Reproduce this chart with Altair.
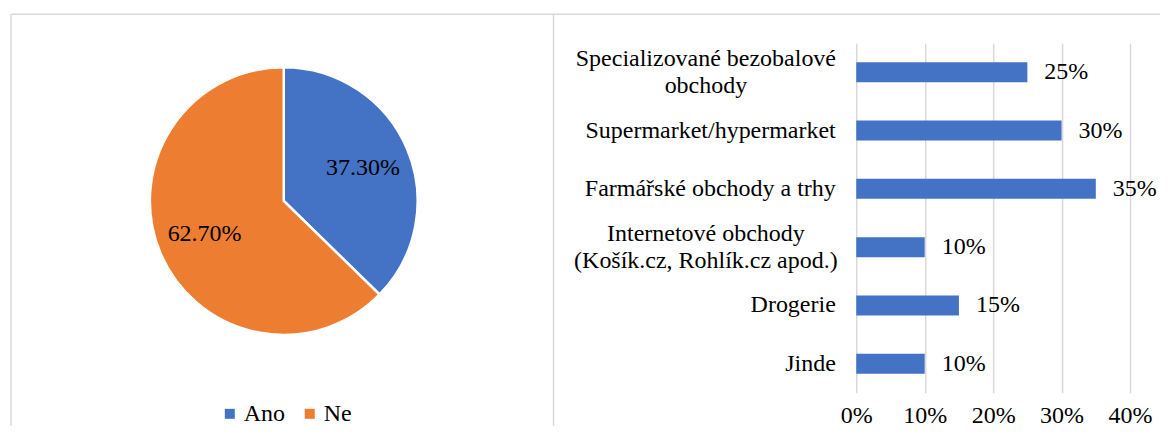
import altair as alt
import pandas as pd

# ---- data ----
answers = ["Ano", "Ne"]
shares = [37.3, 62.7]
share_labels = ["37.30%", "62.70%"]

places = [
    "Specializované bezobalové\nobchody",
    "Supermarket/hypermarket",
    "Farmářské obchody a trhy",
    "Internetové obchody\n(Košík.cz, Rohlík.cz apod.)",
    "Drogerie",
    "Jinde",
]
place_values = [25, 30, 35, 10, 15, 10]
x_ticks = [0, 10, 20, 30, 40]

FONT = "'Liberation Serif', 'Times New Roman', 'DejaVu Serif', serif"
FS = 24
BLUE = "#4472C4"
ORANGE = "#ED7D31"
GRID = "#D9D9D9"

pie_df = pd.DataFrame({"answer": answers, "share": shares, "label": share_labels})
bar_df = pd.DataFrame({"place": places, "value": place_values})

# ---- left panel: pie ----
color = alt.Color(
    "answer:N",
    scale=alt.Scale(domain=answers, range=[BLUE, ORANGE]),
    legend=alt.Legend(
        orient="none", legendX=207, legendY=359, direction="horizontal", title=None,
        symbolType="square", symbolSize=100, symbolStrokeWidth=0,
        labelFont=FONT, labelFontSize=FS, labelColor="black",
        labelOffset=2, columnPadding=12, padding=0,
    ),
)

base = alt.Chart(pie_df).encode(
    theta=alt.Theta("share:Q", stack=True),
    x=alt.value(273), y=alt.value(158),
)
arcs = base.mark_arc(outerRadius=134, stroke="white", strokeWidth=2.5).encode(
    color=color, order=alt.Order("answer:N")
)
pie_text = base.mark_text(radius=86, font=FONT, fontSize=FS, color="black").encode(
    text="label:N", order=alt.Order("answer:N")
)

frame = alt.Chart(alt.Data(values=[{}])).mark_rule(color=GRID, strokeWidth=1.5)
frame_top = frame.encode(x=alt.value(0), x2=alt.value(1150), y=alt.value(-29))
frame_left = frame.encode(x=alt.value(0), y=alt.value(-29), y2=alt.value(383))
frame_div = frame.encode(x=alt.value(543), y=alt.value(-29), y2=alt.value(383))

pie_panel = alt.layer(frame_top, frame_left, frame_div, arcs, pie_text).properties(
    width=543, height=350
)

# ---- right panel: bars ----
multi = "indexof(datum.value, '\\n') >= 0"
y_enc = alt.Y(
    "place:N", sort=places, title=None,
    scale=alt.Scale(paddingInner=0.657, paddingOuter=0.3285),
    axis=alt.Axis(
        domain=False, ticks=False, grid=False,
        labelFont=FONT, labelFontSize=FS, labelColor="black",
        labelLimit=400, labelLineHeight=27,
        labelExpr="split(datum.label, '\\n')",
        labelAlign={"condition": {"test": multi, "value": "center"}, "value": "right"},
        labelPadding={"condition": {"test": multi, "value": 151}, "value": 21},
        labelOffset={"condition": {"test": multi, "value": -13.5}, "value": 0},
    ),
)
x_enc = alt.X(
    "value:Q", title=None, scale=alt.Scale(domain=[0, 40]),
    axis=alt.Axis(
        values=x_ticks, labelExpr="datum.value + '%'",
        grid=True, gridColor=GRID, gridWidth=1.5,
        domain=False, ticks=False, labelFlush=False,
        labelFont=FONT, labelFontSize=FS, labelColor="black", labelPadding=11,
    ),
)

bars = alt.Chart(bar_df).mark_bar(color=BLUE).encode(x=x_enc, y=y_enc)
bar_text = (
    alt.Chart(bar_df)
    .transform_calculate(label="datum.value + '%'")
    .mark_text(align="left", baseline="middle", dx=17, font=FONT, fontSize=FS, color="black")
    .encode(x=x_enc, y=y_enc, text="label:N")
)
bar_panel = alt.layer(bars, bar_text).properties(width=274, height=350)

chart = (
    alt.hconcat(pie_panel, bar_panel, spacing=303, bounds="flush")
    .properties(padding={"left": 2, "top": 5, "right": 0, "bottom": 0})
    .configure_view(stroke=None)
)

chart.save("out.html", embed_options={"renderer": "svg", "actions": False})
